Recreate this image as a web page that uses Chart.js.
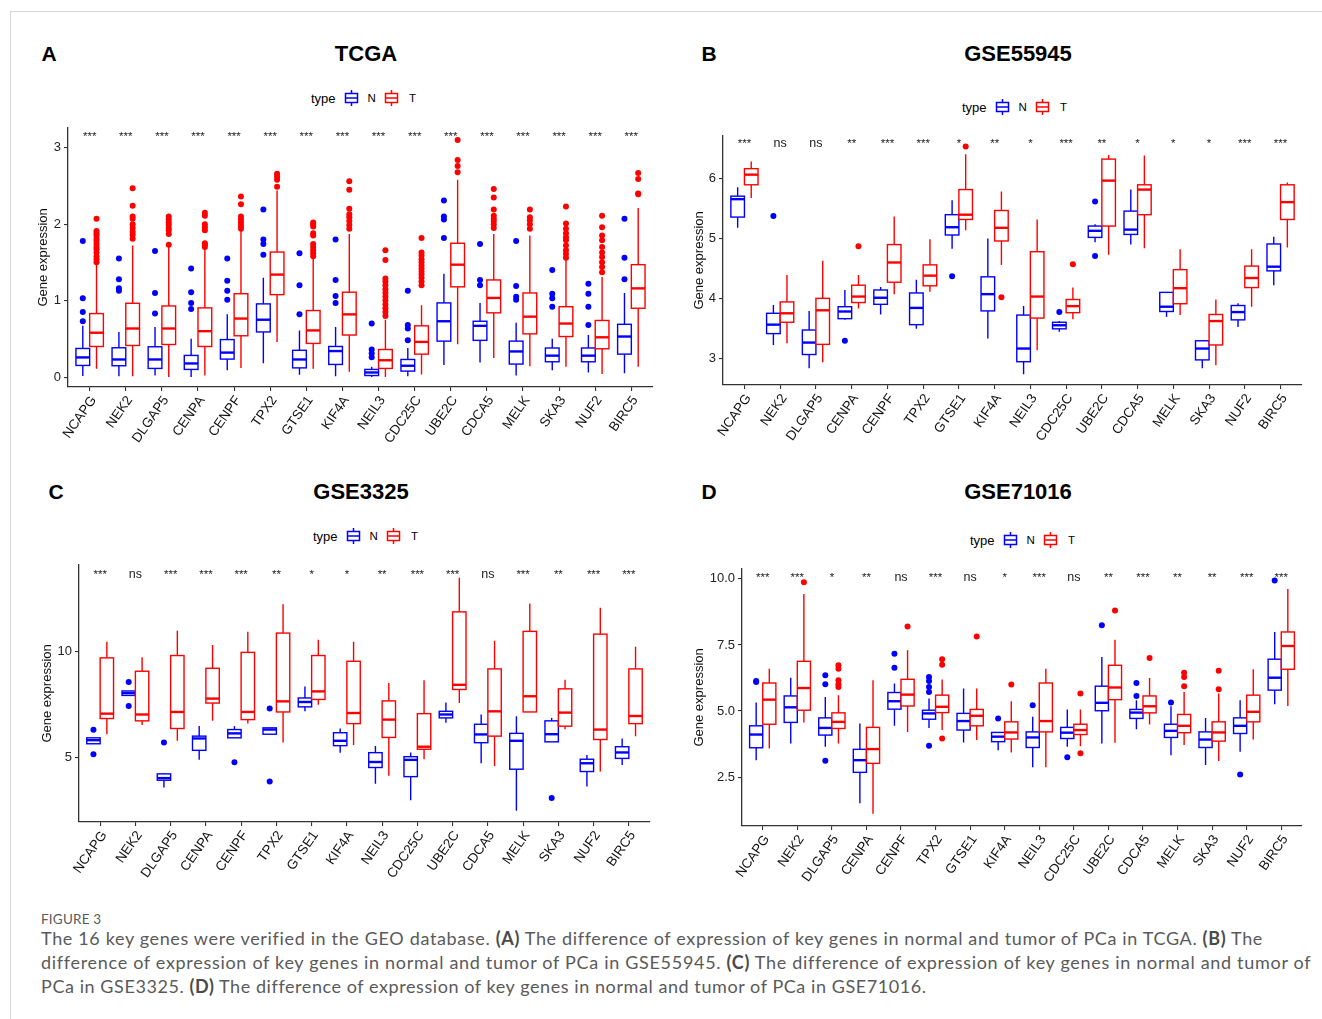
<!DOCTYPE html>
<html>
<head>
<meta charset="utf-8">
<title>Figure 3</title>
<script src="https://cdn.jsdelivr.net/npm/chart.js@4.4.1/dist/chart.umd.min.js"></script>
<style>
body { margin: 0; background: #fff; font-family: 'Liberation Sans', Arial, sans-serif; }
#page { position: relative; width: 1322px; height: 1019px; overflow: hidden; background: #fff; }
#frame { position: absolute; left: 10px; top: 11px; right: 0; bottom: 0; border-top: 1px solid #d6d6d6; border-left: 1px solid #d6d6d6; }
canvas { position: absolute; }
.letter { position: absolute; transform: translate(-50%, -50%); font-weight: bold; font-size: 21px; color: #000; }
.head { position: absolute; transform: translate(-50%, -50%); font-weight: bold; font-size: 22px; color: #000; white-space: nowrap; }
.legend { position: absolute; transform: translateY(-50%); display: flex; align-items: center; font-size: 13px; color: #000; white-space: nowrap; }
.legend svg { display: block; }
.legend .key { font-size: 11.5px; }
.cap { position: absolute; left: 41px; font-family: Lato, 'Open Sans', sans-serif; color: #5a5a5a; white-space: nowrap; }
.cap b { font-weight: bold; color: #4a4a4a; }
.line { font-size: 18px; }
</style>
</head>
<body>
<div id="page">
  <div id="frame"></div>
  <div class="cap" style="top:911px;font-size:13.5px;letter-spacing:0.2px;">FIGURE 3</div>
  <div class="cap line" data-w="1221" style="top:927px;">The 16 key genes were verified in the GEO database. <b>(A)</b> The difference of expression of key genes in normal and tumor of PCa in TCGA. <b>(B)</b> The</div>
  <div class="cap line" data-w="1269" style="top:951px;">difference of expression of key genes in normal and tumor of PCa in GSE55945. <b>(C)</b> The difference of expression of key genes in normal and tumor of</div>
  <div class="cap line" data-w="885" style="top:975px;">PCa in GSE3325. <b>(D)</b> The difference of expression of key genes in normal and tumor of PCa in GSE71016.</div>
</div>
<script>
// genes on the x axis, same order in all four panels
const genes = ['NCAPG', 'NEK2', 'DLGAP5', 'CENPA', 'CENPF', 'TPX2', 'GTSE1', 'KIF4A',
    'NEIL3', 'CDC25C', 'UBE2C', 'CDCA5', 'MELK', 'SKA3', 'NUF2', 'BIRC5'];

// box stats per gene: [lower whisker, q1, median, q3, upper whisker]
// TCGA
const tcgaN = [[0.013,0.152,0.257,0.374,0.67],[0.01,0.148,0.23,0.383,0.59],[0.02,0.113,0.23,0.396,0.656],[0.0,0.10,0.178,0.283,0.50],
    [0.09,0.235,0.32,0.49,0.82],[0.18,0.59,0.75,0.957,1.30],[0.03,0.12,0.23,0.35,0.61],[0.01,0.165,0.34,0.40,0.656],
    [0.0,0.02,0.06,0.10,0.135],[0.01,0.078,0.148,0.23,0.38],[0.157,0.47,0.73,0.97,1.35],[0.19,0.48,0.67,0.73,0.97],
    [0.02,0.17,0.335,0.47,0.71],[0.09,0.20,0.28,0.38,0.50],[0.06,0.20,0.28,0.38,0.55],[0.05,0.30,0.53,0.69,1.10]];
const tcgaT = [[0.11,0.40,0.58,0.83,1.48],[0.01,0.413,0.635,0.965,1.72],[0.0,0.426,0.635,0.93,1.72],[0.02,0.40,0.60,0.905,1.69],
    [0.12,0.54,0.765,1.09,1.94],[0.46,1.078,1.34,1.635,2.44],[0.11,0.44,0.61,0.87,1.56],[0.07,0.55,0.82,1.11,1.87],
    [0.0,0.113,0.22,0.36,0.75],[0.035,0.30,0.46,0.67,0.94],[0.43,1.18,1.47,1.75,2.58],[0.25,0.84,1.035,1.27,1.87],
    [0.14,0.565,0.79,1.10,1.85],[0.135,0.53,0.70,0.92,1.53],[0.04,0.37,0.52,0.74,1.31],[0.135,0.90,1.16,1.47,2.21]];
const tcgaNOut = [[0.73,0.85,1.03,1.78],[1.13,1.16,1.28,1.55],[0.83,1.10,1.65],[0.89,0.97,1.11,1.42],
    [1.01,1.13,1.26,1.55],[1.60,1.74,1.80,2.19],[0.82,1.20,1.62],[0.97,1.06,1.27,1.80],
    [0.26,0.31,0.36,0.70],[0.48,0.635,0.68,1.13],[1.82,2.06,2.10,2.31],[1.20,1.27,1.74],
    [1.01,1.05,1.19,1.78],[0.92,1.03,1.09,1.40],[0.68,0.92,1.09,1.22],[1.28,1.56,2.07]];
const tcgaTOut = [[1.50,1.54,1.58,1.63,1.67,1.70,1.74,1.78,1.81,1.85,1.88,1.91,2.07],
    [1.81,1.86,1.90,1.95,2.00,2.07,2.10,2.24,2.47],
    [1.73,1.87,1.92,1.95,1.99,2.02,2.06,2.10],
    [1.70,1.73,1.75,1.92,1.96,2.00,2.11,2.15],
    [1.94,1.98,2.02,2.06,2.10,2.26,2.36],
    [2.49,2.58,2.62,2.66],
    [1.58,1.62,1.66,1.70,1.74,1.85,1.88,1.97,2.00,2.02],
    [1.94,1.99,2.04,2.09,2.13,2.20,2.45,2.56],
    [0.80,0.85,0.90,0.95,1.00,1.05,1.10,1.15,1.20,1.25,1.29,1.53,1.66],
    [1.20,1.25,1.30,1.34,1.38,1.42,1.46,1.50,1.54,1.59,1.63,1.82],
    [2.68,2.76,2.84,3.10],
    [1.95,2.00,2.04,2.07,2.11,2.19,2.35,2.46],
    [1.94,2.00,2.05,2.09,2.19],
    [1.56,1.61,1.66,1.72,1.79,1.83,1.88,1.94,2.01,2.23],
    [1.37,1.44,1.50,1.57,1.63,1.70,1.79,1.85,1.96,2.11],
    [2.39,2.40,2.59,2.67]];
const tcgaSig = ['***','***','***','***','***','***','***','***','***','***','***','***','***','***','***','***'];
const tcgaTicks = [0, 1, 2, 3];
const tcgaTickLabels = ['0', '1', '2', '3'];

// GSE55945
const g55945N = [[5.18,5.36,5.66,5.71,5.86],[3.22,3.41,3.56,3.75,3.89],[2.83,3.06,3.26,3.47,3.79],[3.64,3.66,3.78,3.86,4.14],
    [3.73,3.90,4.01,4.14,4.19],[3.49,3.56,3.84,4.09,4.31],[4.83,5.06,5.19,5.40,5.64],[3.33,3.79,4.07,4.36,5.00],
    [2.73,2.94,3.16,3.72,3.87],[3.44,3.49,3.55,3.60,3.62],[4.94,5.02,5.13,5.21,5.24],[4.90,5.07,5.15,5.46,5.82],
    [3.69,3.78,3.86,4.10,4.10],[2.83,2.97,3.16,3.29,3.30],[3.52,3.64,3.77,3.88,3.92],[4.22,4.46,4.53,4.91,5.03]];
const g55945T = [[5.68,5.90,6.07,6.17,6.29],[3.25,3.60,3.75,3.94,4.39],[2.93,3.23,3.80,4.00,4.63],[3.83,3.93,4.03,4.22,4.39],
    [4.07,4.27,4.60,4.90,5.37],[4.11,4.21,4.38,4.56,4.99],[5.14,5.32,5.40,5.82,6.41],[4.56,4.96,5.18,5.47,5.79],
    [3.13,3.67,4.03,4.78,5.32],[3.65,3.76,3.87,3.98,4.18],[4.73,5.21,5.97,6.33,6.40],[4.84,5.40,5.82,5.90,6.39],
    [3.72,3.91,4.17,4.48,4.82],[2.88,3.22,3.62,3.73,3.98],[3.86,4.18,4.34,4.54,4.82],[4.85,5.32,5.61,5.90,5.94]];
const g55945NOut = [[],[5.38],[],[3.29],[],[],[4.37],[],[],[3.77],[4.71,5.62],[],[],[],[],[]];
const g55945TOut = [[],[],[],[4.87],[],[],[6.54],[4.02],[],[4.57],[],[],[],[],[],[]];
const g55945Sig = ['***','ns','ns','**','***','***','*','**','*','***','**','*','*','*','***','***'];
const g55945Ticks = [3, 4, 5, 6];
const g55945TickLabels = ['3', '4', '5', '6'];

// GSE3325
const g3325N = [[5.64,5.64,5.81,5.92,5.92],[7.92,7.92,8.03,8.13,8.13],[3.58,3.92,4.02,4.22,4.25],[4.88,5.33,5.89,6.00,6.48],
    [5.92,5.92,6.13,6.31,6.47],[6.09,6.09,6.31,6.39,6.39],[7.17,7.38,7.61,7.80,8.34],[5.22,5.55,5.78,6.16,6.36],
    [3.75,4.52,4.78,5.22,5.53],[2.97,4.09,4.88,5.03,5.23],[6.63,6.86,7.02,7.17,7.58],[4.72,5.69,6.08,6.56,7.02],
    [2.48,4.44,5.78,6.13,6.94],[5.73,5.73,6.09,6.72,6.86],[3.63,4.33,4.72,4.91,5.11],[4.64,4.95,5.23,5.50,5.89]];
const g3325T = [[6.09,6.83,7.06,9.69,10.45],[6.52,6.72,7.02,9.06,9.72],[5.78,6.36,7.14,9.80,10.97],[6.72,7.56,7.77,9.20,10.30],
    [6.59,6.78,7.14,9.95,10.92],[5.70,7.14,7.64,10.86,12.22],[7.48,7.73,8.11,9.80,10.55],[5.58,6.59,7.09,9.53,10.45],
    [4.13,5.94,6.78,7.66,8.50],[4.91,5.38,5.50,7.06,8.63],[7.56,8.20,8.42,11.86,13.47],[4.59,6.00,7.17,9.17,10.50],
    [7.14,7.14,7.88,10.94,12.25],[6.33,6.47,7.11,8.23,8.66],[4.33,5.84,6.31,10.81,12.06],[6.00,6.59,6.95,9.17,10.22]];
const g3325NOut = [[5.14,6.30],[7.42,8.55],[5.70],[],[4.77],[3.86,7.30],[],[],[],[],[],[],[],[3.08],[],[]];
const g3325TOut = [[],[],[],[],[],[],[],[],[],[],[],[],[],[],[],[]];
const g3325Sig = ['***','ns','***','***','***','**','*','*','**','***','***','ns','***','**','***','***'];
const g3325Ticks = [5, 10];
const g3325TickLabels = ['5', '10'];

// GSE71016
const g71016N = [[3.14,3.61,4.11,4.44,5.32],[3.77,4.57,5.14,5.57,6.26],[3.65,4.09,4.36,4.74,5.53],[1.51,2.68,3.14,3.55,4.53],
    [4.44,5.07,5.37,5.70,6.04],[4.36,4.69,4.91,5.03,5.47],[3.81,4.28,4.62,4.91,5.85],[3.52,3.84,4.03,4.19,4.21],
    [2.87,3.62,4.00,4.21,4.78],[3.65,3.96,4.18,4.38,5.06],[3.77,5.01,5.31,5.94,7.04],[4.31,4.72,4.94,5.06,5.41],
    [3.33,4.00,4.25,4.50,5.18],[2.96,3.62,3.92,4.21,4.74],[3.46,4.15,4.44,4.74,5.41],[5.26,5.79,6.26,6.96,7.99]];
const g71016T = [[3.58,4.50,5.43,6.06,6.60],[4.57,5.03,5.87,6.88,9.43],[3.77,4.34,4.59,4.93,5.60],[1.11,3.02,3.56,4.38,6.16],
    [4.21,5.19,5.62,6.20,7.30],[4.28,4.94,5.16,5.60,6.19],[3.90,4.44,4.82,5.06,5.85],[3.43,3.94,4.19,4.59,5.37],
    [2.87,4.21,4.62,6.06,6.60],[3.67,4.11,4.28,4.50,5.06],[3.80,5.43,5.89,6.73,7.70],[4.49,4.93,5.18,5.57,6.25],
    [3.71,4.18,4.44,4.87,5.72],[3.11,3.86,4.19,4.59,5.66],[3.92,4.59,4.97,5.60,6.58],[5.19,6.58,7.46,7.99,9.62]];
const g71016NOut = [[6.10,6.14],[],[3.12,6.01,6.35],[],[6.64,7.17],[3.69,5.72,5.91,6.14,6.29],[],[4.72],
    [5.22],[3.25],[8.24],[5.57,6.06],[5.32],[],[2.60],[9.94]];
const g71016TOut = [[],[9.87],[5.91,6.01,6.16,6.60,6.73],[],[8.20],[3.96,6.75,6.96],[7.82],[6.00],
    [],[3.40,5.66],[8.80],[7.01],[5.94,6.29,6.45],[5.82,6.52],[],[]];
const g71016Sig = ['***','***','*','**','ns','***','ns','*','***','ns','**','***','**','**','***','***'];
const g71016Ticks = [2.5, 5, 7.5, 10];
const g71016TickLabels = ['2.5', '5.0', '7.5', '10.0'];

const BLUE = '#0000ff';
const RED = '#ff0000';
const BOX_W = 0.38;
const DODGE = 0.19;

Chart.defaults.font.family = "'Liberation Sans', Arial, sans-serif";

// layout of the four panels (plot rectangle in page pixels)
const panels = [
    { letter: 'A', title: 'TCGA', n: tcgaN, t: tcgaT, nOut: tcgaNOut, tOut: tcgaTOut, sig: tcgaSig,
      ticks: tcgaTicks, tickLabels: tcgaTickLabels, yMin: -0.13, yMax: 3.26, sigY: 3.10,
      plot: { l: 68, t: 127, r: 653, b: 387 }, yTitleX: 44, letterPos: [49, 54], headPos: [366, 54], legendPos: [311, 98] },
    { letter: 'B', title: 'GSE55945', n: g55945N, t: g55945T, nOut: g55945NOut, tOut: g55945TOut, sig: g55945Sig,
      ticks: g55945Ticks, tickLabels: g55945TickLabels, yMin: 2.55, yMax: 6.72, sigY: 6.54,
      plot: { l: 723, t: 135, r: 1302, b: 385 }, yTitleX: 700, letterPos: [709, 54], headPos: [1018, 54], legendPos: [962, 107] },
    { letter: 'C', title: 'GSE3325', n: g3325N, t: g3325T, nOut: g3325NOut, tOut: g3325TOut, sig: g3325Sig,
      ticks: g3325Ticks, tickLabels: g3325TickLabels, yMin: 1.95, yMax: 14.08, sigY: 13.47,
      plot: { l: 79, t: 564, r: 650, b: 822 }, yTitleX: 48, letterPos: [56, 492], headPos: [361, 492], legendPos: [313, 536] },
    { letter: 'D', title: 'GSE71016', n: g71016N, t: g71016T, nOut: g71016NOut, tOut: g71016TOut, sig: g71016Sig,
      ticks: g71016Ticks, tickLabels: g71016TickLabels, yMin: 0.65, yMax: 10.38, sigY: 9.93,
      plot: { l: 742, t: 568, r: 1302, b: 826 }, yTitleX: 700, letterPos: [709, 492], headPos: [1018, 492], legendPos: [970, 540] }
];

// draws whiskers, boxes and medians through the chart scales, plus the significance row
const boxPlugin = {
    id: 'boxes',
    beforeDatasetsDraw(chart, args, opts) {
        const ctx = chart.ctx;
        const x = chart.scales.x, y = chart.scales.y;
        opts.groups.forEach(g => {
            g.stats.forEach((s, i) => {
                const c = i + 1 + g.shift;
                const xl = x.getPixelForValue(c - BOX_W / 2);
                const xr = x.getPixelForValue(c + BOX_W / 2);
                const xc = x.getPixelForValue(c);
                const lo = y.getPixelForValue(s[0]), q1 = y.getPixelForValue(s[1]);
                const med = y.getPixelForValue(s[2]), q3 = y.getPixelForValue(s[3]);
                const hi = y.getPixelForValue(s[4]);
                ctx.save();
                ctx.strokeStyle = g.color;
                ctx.lineWidth = 1.4;
                ctx.beginPath();
                ctx.moveTo(xc, hi); ctx.lineTo(xc, q3);
                ctx.moveTo(xc, q1); ctx.lineTo(xc, lo);
                ctx.stroke();
                ctx.fillStyle = '#fff';
                ctx.fillRect(xl, q3, xr - xl, q1 - q3);
                ctx.strokeRect(xl, q3, xr - xl, q1 - q3);
                ctx.lineWidth = 2.4;
                ctx.beginPath();
                ctx.moveTo(xl, med); ctx.lineTo(xr, med);
                ctx.stroke();
                ctx.restore();
            });
        });
    },
    afterDatasetsDraw(chart, args, opts) {
        const ctx = chart.ctx;
        const x = chart.scales.x, y = chart.scales.y;
        ctx.save();
        ctx.fillStyle = '#222';
        ctx.textAlign = 'center';
        ctx.textBaseline = 'alphabetic';
        opts.sig.forEach((s, i) => {
            ctx.font = (s === 'ns' ? '12.5px' : '11.5px') + " 'Liberation Sans', Arial, sans-serif";
            ctx.fillText(s, x.getPixelForValue(i + 1), y.getPixelForValue(opts.sigY));
        });
        ctx.restore();
    }
};

function outlierPoints(outs, shift) {
    return outs.flatMap((vals, i) => vals.map(v => ({ x: i + 1 + shift, y: v })));
}

function boxIcon(color) {
    return '<svg width="15" height="18" viewBox="0 0 15 18">' +
        '<g stroke="' + color + '" stroke-width="1.5" fill="none">' +
        '<line x1="7.5" y1="1" x2="7.5" y2="4.5"/><rect x="1.5" y="4.5" width="12" height="9"/>' +
        '<line x1="1.5" y1="9" x2="13.5" y2="9"/><line x1="7.5" y1="13.5" x2="7.5" y2="17"/></g></svg>';
}

// stretch the caption lines to the measured widths of the original
document.querySelectorAll('.cap.line').forEach(el => {
    const target = +el.dataset.w;
    const chars = el.textContent.length;
    const w = el.getBoundingClientRect().width;
    el.style.letterSpacing = ((target - w) / chars).toFixed(3) + 'px';
});

const page = document.getElementById('page');
const PAD_TOP = 10, PAD_RIGHT = 8, X_AXIS_H = 78;

panels.forEach(p => {
    // header bits
    const letter = document.createElement('div');
    letter.className = 'letter';
    letter.textContent = p.letter;
    letter.style.left = p.letterPos[0] + 'px';
    letter.style.top = p.letterPos[1] + 'px';
    page.appendChild(letter);

    const head = document.createElement('div');
    head.className = 'head';
    head.textContent = p.title;
    head.style.left = p.headPos[0] + 'px';
    head.style.top = p.headPos[1] + 'px';
    page.appendChild(head);

    const legend = document.createElement('div');
    legend.className = 'legend';
    legend.style.left = p.legendPos[0] + 'px';
    legend.style.top = p.legendPos[1] + 'px';
    legend.innerHTML = '<span>type</span><span style="width:8px"></span>' + boxIcon(BLUE) +
        '<span style="width:9px"></span><span class="key">N</span><span style="width:8px"></span>' + boxIcon(RED) +
        '<span style="width:10px"></span><span class="key">T</span>';
    page.appendChild(legend);

    // canvas placed so that the chart area lands on the plot rectangle
    const left = Math.round(p.yTitleX - 11.8);
    const top = p.plot.t - PAD_TOP;
    const width = p.plot.r + PAD_RIGHT - left;
    const height = p.plot.b + X_AXIS_H - top;
    const yAxisW = p.plot.l - left;

    const canvas = document.createElement('canvas');
    canvas.width = width;
    canvas.height = height;
    canvas.style.left = left + 'px';
    canvas.style.top = top + 'px';
    canvas.style.width = width + 'px';
    canvas.style.height = height + 'px';
    page.appendChild(canvas);

    new Chart(canvas, {
        type: 'scatter',
        data: {
            datasets: [
                { data: outlierPoints(p.nOut, -DODGE), backgroundColor: BLUE, borderWidth: 0, pointRadius: 3, pointHoverRadius: 3 },
                { data: outlierPoints(p.tOut, DODGE), backgroundColor: RED, borderWidth: 0, pointRadius: 3, pointHoverRadius: 3 }
            ]
        },
        options: {
            responsive: false,
            animation: false,
            events: [],
            layout: { autoPadding: false, padding: { left: 0, top: PAD_TOP, right: PAD_RIGHT, bottom: 0 } },
            plugins: {
                legend: { display: false },
                tooltip: { enabled: false },
                boxes: {
                    groups: [{ stats: p.n, shift: -DODGE, color: BLUE }, { stats: p.t, shift: DODGE, color: RED }],
                    sig: p.sig,
                    sigY: p.sigY
                }
            },
            scales: {
                x: {
                    type: 'linear',
                    min: 0.4,
                    max: 16.6,
                    afterBuildTicks: s => { s.ticks = genes.map((g, i) => ({ value: i + 1 })); },
                    afterFit: s => { s.height = X_AXIS_H; },
                    ticks: {
                        autoSkip: false,
                        minRotation: 55,
                        maxRotation: 55,
                        padding: 2,
                        labelOffset: 4,
                        color: '#111',
                        font: { size: 13.5 },
                        callback: v => genes[Math.round(v) - 1]
                    },
                    grid: { display: true, drawOnChartArea: false, drawTicks: true, tickLength: 4, color: '#333', lineWidth: 1.1 },
                    border: { display: true, color: '#333', width: 1.3 }
                },
                y: {
                    min: p.yMin,
                    max: p.yMax,
                    afterBuildTicks: s => { s.ticks = p.ticks.map(v => ({ value: v })); },
                    afterFit: s => { s.width = yAxisW; },
                    ticks: {
                        padding: 3,
                        color: '#222',
                        font: { size: 13 },
                        callback: v => p.tickLabels[p.ticks.indexOf(v)]
                    },
                    grid: { display: true, drawOnChartArea: false, drawTicks: true, tickLength: 4, color: '#333', lineWidth: 1.1 },
                    border: { display: true, color: '#333', width: 1.3 },
                    title: { display: true, text: 'Gene expression', color: '#111', font: { size: 13 }, padding: { top: 4, bottom: 0 } }
                }
            }
        },
        plugins: [boxPlugin]
    });
});
</script>
</body>
</html>
